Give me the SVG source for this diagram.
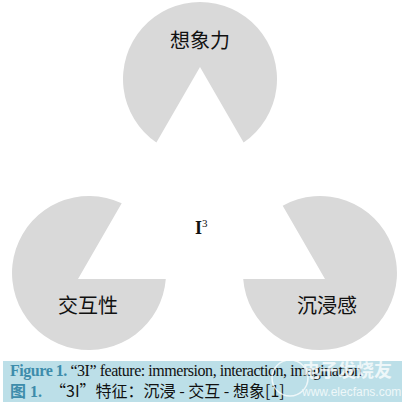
<svg xmlns="http://www.w3.org/2000/svg" width="407" height="406" viewBox="0 0 407 406">
<style>
.pac{fill:#d9d9d9;stroke:none}
.lbl{font-family:"Liberation Serif","Noto Sans CJK SC",serif;font-size:20px;fill:#111;text-anchor:middle}
.cap{font-family:"Liberation Serif","Noto Sans CJK SC",serif;font-size:16px;fill:#111}
.capzh{font-family:"Noto Sans CJK SC",sans-serif;font-size:16px;fill:#111}
.blue{fill:#3d8cab;font-weight:bold}
.wm{opacity:0.75}
</style>
<rect width="407" height="406" fill="#ffffff"/>
<g id="node-imagination">
<path class="pac" d="M200 67 L243.6 142.5 A77 77 0 1 0 156.4 142.5 Z"/>
<text class="lbl" x="200" y="48">想象力</text>
</g>
<g id="node-interaction">
<path class="pac" d="M78 279 L165.8 279 A77 77 0 1 1 121.7 203.3 Z"/>
<text class="lbl" x="88" y="313">交互性</text>
</g>
<g id="node-immersion">
<path class="pac" d="M325 279 L243.2 279 A77 77 0 1 0 282.7 205.7 Z"/>
<text class="lbl" x="327" y="313">沉浸感</text>
</g>
<g id="node-center">
<text x="195" y="234" font-family="Liberation Serif,serif" font-size="18" font-weight="bold" fill="#111">I<tspan font-size="11" font-weight="normal" dy="-7">3</tspan></text>
</g>
<g id="connectors"></g>
<g id="caption">
<rect x="3" y="361" width="399" height="41" fill="#bcdfe8"/>
<text class="cap" x="10" y="376" textLength="352" lengthAdjust="spacing"><tspan class="blue">Figure 1.</tspan> “3I” feature: immersion, interaction, imagination</text>
<text class="capzh" x="10" y="397"><tspan class="blue">图</tspan><tspan class="blue" font-family="Liberation Serif,serif"> 1.</tspan><tspan x="50">“3I”特征：沉浸 - 交互 - 想象[1]</tspan></text>
<g class="wm">
<circle cx="290" cy="378" r="18" fill="none" stroke="#ffffff" stroke-width="1.5"/>
<text x="302" y="377" font-family="Noto Sans CJK SC,sans-serif" font-size="18" font-weight="bold" fill="#ffffff">电子发烧友</text>
<text x="302" y="396" font-family="Liberation Sans,sans-serif" font-size="12" fill="#ffffff">www.elecfans.com</text>
</g>
</g>
</svg>
